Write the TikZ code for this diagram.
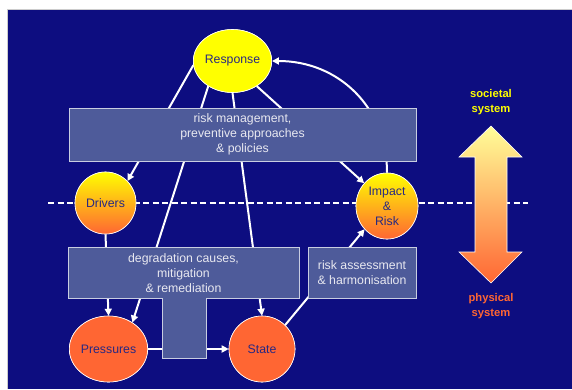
\documentclass[tikz,border=0pt]{standalone}
\usepackage{fontspec}
\setmainfont{Liberation Sans}
\usetikzlibrary{arrows.meta,shapes.geometric}
\definecolor{bgblue}{RGB}{13,13,128}
\definecolor{boxfill}{RGB}{78,91,154}
\definecolor{boxline}{RGB}{200,205,225}
\definecolor{boxtext}{RGB}{232,232,240}
\definecolor{circtext}{RGB}{40,40,130}
\definecolor{myorange}{RGB}{255,102,51}
\definecolor{myyellow}{RGB}{255,255,0}
\definecolor{midorange}{RGB}{255,200,20}
\definecolor{lightyellow}{RGB}{255,255,153}
\definecolor{arrowmid}{RGB}{255,196,110}
\begin{document}
\begin{tikzpicture}[x=1pt,y=-1pt,
  circ/.style={ellipse,draw=white,line width=0.6pt,inner sep=0pt,align=center,
    text=circtext,font=\fontsize{12.3}{15}\selectfont},
  yell/.style={circ,fill=myyellow},
  grad/.style={circ,top color=myyellow,middle color=midorange,bottom color=myorange},
  oran/.style={circ,fill=myorange},
  infobox/.style={rectangle,draw=boxline,line width=0.6pt,fill=boxfill,inner sep=0pt,
    align=center,text=boxtext,font=\fontsize{12.3}{15}\selectfont},
  conn/.style={draw=white,line width=2pt,-{Triangle[length=7pt,width=7pt]}},
  label/.style={align=center,font=\bfseries\fontsize{11.2}{15}\selectfont}
]
\useasboundingbox (0,0) rectangle (572,389);
\fill[white] (0,0) rectangle (572,389);
\fill[bgblue] (7,9) rectangle (572,389);
\draw[gray!40,line width=0.5pt] (7,389) -- (7,9) -- (572,9);

% circles (placed first to get anchors)
\node[yell,minimum width=61pt,minimum height=63pt] (resp) at (232.5,61) {Response};
\node[grad,minimum width=61pt,minimum height=62pt] (drv) at (105.5,203) {Drivers};
\node[grad,minimum width=62pt,minimum height=66pt] (imp) at (387,206) {Impact\\\&\\Risk};
\node[oran,minimum width=67pt,minimum height=66pt] (prs) at (108.5,349) {Pressures};
\node[oran,minimum width=66pt,minimum height=66pt] (sta) at (262,349) {State};

% dashed separator
\coordinate (dl) at (48,203);
\coordinate (dr) at (528,203);
\draw[white,line width=2pt,dash pattern=on 6pt off 3.5pt] (dl) -- (dr);

% double arrow
\shade[top color=lightyellow,middle color=arrowmid,bottom color=myorange,draw=white,line width=0.6pt]
  (491,126) -- (522,157) -- (507,157) -- (507,252) -- (522,252) -- (491,283)
  -- (459,252) -- (475,252) -- (475,157) -- (459,157) -- cycle;
\node[label,text=myyellow] (soc) at (491,102.5) {societal\\system};
\node[label,text=myorange] (phy) at (491,306.5) {physical\\system};

% connectors
\draw[conn] (imp.north) .. controls +(0,-66) and +(66,0) .. (resp.east);
\draw[conn] (resp.186) -- (drv.45);
\draw[conn] (resp.226) -- (prs.48);
\draw[conn] (resp.south) -- (sta.north);
\draw[conn] (resp.314) -- (imp.135);
\draw[conn] (drv.south) -- (prs.north);
\draw[conn] (prs.east) -- (sta.west);
\draw[conn] (sta.46) -- (imp.226);

% boxes
\node[infobox,minimum width=347pt,minimum height=53pt] (b1) at (242.5,134.5)
  {risk management,\\preventive approaches\\\& policies};
\filldraw[fill=boxfill,draw=boxline,line width=0.6pt]
  (68,247) -- (299,247) -- (299,298) -- (206,298) -- (206,358) -- (162,358)
  -- (162,298) -- (68,298) -- cycle;
\node[align=center,text=boxtext,font=\fontsize{12.3}{15}\selectfont] (b2) at (183.5,273)
  {degradation causes,\\mitigation\\\& remediation};
\node[infobox,minimum width=108pt,minimum height=51pt] (b3) at (362,272.5)
  {risk assessment\\\& harmonisation};

% redraw circles on top
\node[yell,minimum width=61pt,minimum height=63pt] at (232.5,61) {Response};
\node[grad,minimum width=61pt,minimum height=62pt] at (105.5,203) {Drivers};
\node[grad,minimum width=62pt,minimum height=66pt] at (387,206) {Impact\\\&\\Risk};
\node[oran,minimum width=67pt,minimum height=66pt] at (108.5,349) {Pressures};
\node[oran,minimum width=66pt,minimum height=66pt] at (262,349) {State};
\end{tikzpicture}
\end{document}
